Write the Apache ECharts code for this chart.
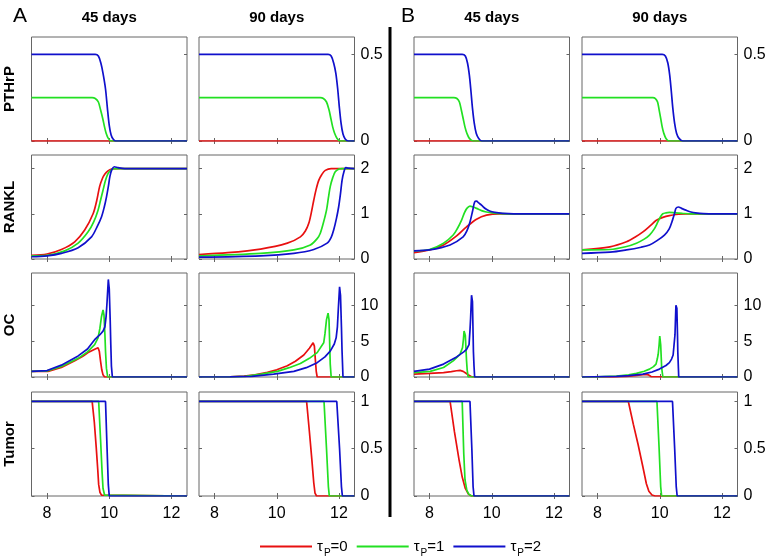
<!DOCTYPE html>
<html><head><meta charset="utf-8">
<script src="https://cdn.jsdelivr.net/npm/echarts@6/dist/echarts.min.js"></script>
<style>html,body{margin:0;padding:0;background:#fff}#c{width:769px;height:556px}</style>
</head><body><div id="c"></div>
<script>
// ---------- labels / ticks ----------
const rowNames = ['PTHrP', 'RANKL', 'OC', 'Tumor'];
const colTitles = ['45 days', '90 days', '45 days', '90 days'];
const groupLetters = ['A', 'B'];
const seriesNames = ['τP=0', 'τP=1', 'τP=2'];
const xTicks = [8, 10, 12];
const yTicksPTHrP = [0, 0.5];
const yTicksRANKL = [0, 1, 2];
const yTicksOC = [0, 5, 10];
const yTicksTumor = [0, 0.5, 1];

// ---------- PTHrP ----------
const pthA45_t0 = [[7.5,0],[12.5,0]];
const pthA45_t1 = [[7.5,.25],[9.45,.25],[9.55,.245],[9.65,.225],[9.72,.18],[9.79,.13],[9.85,.08],[9.9,.045],[9.97,.015],[10.06,0],[12.5,0]];
const pthA45_t2 = [[7.5,.5],[9.55,.5],[9.65,.49],[9.73,.45],[9.8,.39],[9.88,.3],[9.94,.19],[10.0,.09],[10.06,.035],[10.13,.01],[10.2,0],[12.5,0]];
const pthA90_t0 = [[7.5,0],[12.5,0]];
const pthA90_t1 = [[7.5,.25],[11.4,.25],[11.5,.245],[11.6,.225],[11.68,.18],[11.74,.13],[11.8,.08],[11.86,.045],[11.94,.015],[12.03,0],[12.5,0]];
const pthA90_t2 = [[7.5,.5],[11.65,.5],[11.75,.49],[11.83,.45],[11.9,.39],[11.96,.3],[12.01,.2],[12.07,.1],[12.13,.04],[12.2,.012],[12.3,0],[12.5,0]];
const pthB45_t0 = [[7.5,0],[12.5,0]];
const pthB45_t1 = [[7.5,.25],[8.78,.25],[8.88,.245],[8.96,.225],[9.02,.18],[9.08,.13],[9.14,.08],[9.2,.045],[9.28,.015],[9.4,0],[12.5,0]];
const pthB45_t2 = [[7.5,.5],[9.05,.5],[9.15,.49],[9.22,.45],[9.28,.38],[9.33,.29],[9.38,.19],[9.44,.1],[9.5,.045],[9.58,.015],[9.68,0],[12.5,0]];
const pthB90_t0 = [[7.5,0],[12.5,0]];
const pthB90_t1 = [[7.5,.25],[9.78,.25],[9.86,.245],[9.93,.225],[9.98,.18],[10.03,.13],[10.08,.08],[10.13,.045],[10.2,.015],[10.3,0],[12.5,0]];
const pthB90_t2 = [[7.5,.5],[10.08,.5],[10.18,.49],[10.26,.45],[10.32,.38],[10.37,.29],[10.42,.19],[10.48,.1],[10.54,.045],[10.62,.015],[10.74,0],[12.5,0]];

// ---------- RANKL ----------
const rankA45_t0 = [[7.5,.08],[8.0,.11],[8.46,.21],[8.89,.38],[9.21,.64],[9.48,1.0],[9.6,1.3],[9.69,1.6],[9.78,1.78],[9.86,1.88],[9.96,1.95],[10.07,1.99],[10.3,2.0],[12.5,2.0]];
const rankA45_t1 = [[7.5,.07],[8.0,.08],[8.57,.18],[9.0,.35],[9.32,.6],[9.5,.82],[9.64,1.08],[9.72,1.3],[9.8,1.52],[9.88,1.74],[9.96,1.89],[10.05,1.96],[10.15,2.0],[12.5,2.0]];
const rankA45_t2 = [[7.5,.05],[8.0,.07],[8.46,.125],[9.0,.25],[9.43,.49],[9.6,.7],[9.75,.93],[9.84,1.15],[9.91,1.37],[9.97,1.6],[10.02,1.82],[10.08,1.97],[10.16,2.04],[10.28,2.02],[10.5,2.0],[12.5,2.0]];
const rankA90_t0 = [[7.5,.1],[8.42,.14],[9.48,.22],[10.34,.35],[10.76,.49],[10.92,.62],[11.03,.79],[11.11,1.02],[11.19,1.3],[11.27,1.55],[11.35,1.74],[11.45,1.87],[11.56,1.96],[11.75,2.0],[12.5,2.0]];
const rankA90_t1 = [[7.5,.07],[9.48,.125],[10.55,.2],[11.08,.31],[11.3,.45],[11.4,.57],[11.5,.8],[11.6,1.08],[11.66,1.35],[11.72,1.6],[11.8,1.8],[11.88,1.93],[12.0,1.99],[12.1,2.0],[12.5,2.0]];
const rankA90_t2 = [[7.5,.04],[9.48,.07],[10.55,.125],[11.19,.21],[11.62,.35],[11.75,.48],[11.83,.64],[11.92,.9],[11.99,1.15],[12.05,1.45],[12.1,1.74],[12.16,1.93],[12.22,2.02],[12.3,2.01],[12.5,2.0]];
const rankB45_t0 = [[7.5,.14],[8.0,.2],[8.45,.31],[8.87,.51],[9.19,.71],[9.51,.88],[9.83,.97],[10.25,1.0],[12.5,1.0]];
const rankB45_t1 = [[7.5,.18],[8.0,.21],[8.45,.35],[8.76,.53],[8.9,.68],[9.03,.86],[9.12,1.02],[9.2,1.12],[9.3,1.17],[9.4,1.15],[9.51,1.12],[9.67,1.07],[9.83,1.04],[10.14,1.01],[10.5,1.0],[12.5,1.0]];
const rankB45_t2 = [[7.5,.18],[8.0,.2],[8.66,.31],[9.08,.49],[9.2,.62],[9.3,.82],[9.38,1.05],[9.45,1.26],[9.51,1.28],[9.58,1.24],[9.67,1.19],[9.8,1.11],[9.93,1.06],[10.1,1.03],[10.36,1.01],[10.7,1.0],[12.5,1.0]];
const rankB90_t0 = [[7.5,.2],[8.4,.27],[8.93,.38],[9.2,.48],[9.46,.6],[9.7,.74],[9.88,.85],[10.1,.92],[10.31,.96],[10.6,.99],[10.84,1.0],[12.5,1.0]];
const rankB90_t1 = [[7.5,.2],[8.4,.21],[8.9,.27],[9.25,.35],[9.5,.44],[9.67,.53],[9.82,.66],[9.94,.82],[10.02,.93],[10.1,1.0],[10.2,1.02],[10.31,1.03],[10.5,1.02],[10.73,1.01],[11.0,1.0],[12.5,1.0]];
const rankB90_t2 = [[7.5,.125],[8.4,.15],[8.93,.2],[9.4,.26],[9.67,.31],[9.9,.4],[10.15,.53],[10.3,.66],[10.41,.86],[10.48,1.02],[10.52,1.12],[10.6,1.15],[10.7,1.12],[10.84,1.08],[11.0,1.04],[11.15,1.02],[11.58,1.0],[12.5,1.0]];

// ---------- OC ----------
const ocA45_t0 = [[7.5,.78],[8.03,.78],[8.46,1.33],[8.89,2.25],[9.15,2.9],[9.32,3.4],[9.55,3.9],[9.64,4.08],[9.68,3.6],[9.72,2.2],[9.76,1.0],[9.8,.3],[9.85,0],[12.5,0]];
const ocA45_t1 = [[7.5,.78],[8.0,.85],[8.46,1.47],[9.0,2.6],[9.3,3.5],[9.53,4.5],[9.64,5.46],[9.7,6.8],[9.75,8.4],[9.8,9.36],[9.83,8.67],[9.86,6.0],[9.88,3.6],[9.91,1.2],[9.95,0],[12.5,0]];
const ocA45_t2 = [[7.5,.78],[8.0,.9],[8.46,1.65],[9.0,2.94],[9.3,3.9],[9.53,5.2],[9.7,5.9],[9.8,6.4],[9.86,7.0],[9.9,8.5],[9.93,10.5],[9.97,13.6],[10.0,12.3],[10.03,8.0],[10.05,4.5],[10.07,1.5],[10.1,0],[12.5,0]];
const ocA90_t0 = [[7.5,0],[8.5,.03],[8.95,.14],[9.3,.3],[9.7,.64],[10.0,1.0],[10.34,1.56],[10.6,2.2],[10.87,3.07],[11.05,4.0],[11.17,4.77],[11.21,4.3],[11.24,2.5],[11.27,.8],[11.3,0],[12.5,0]];
const ocA90_t1 = [[7.5,0],[8.5,.02],[9.0,.1],[9.5,.4],[10.02,.78],[10.4,1.3],[10.76,1.88],[11.05,2.6],[11.3,3.4],[11.51,4.77],[11.55,6.0],[11.6,8.0],[11.65,8.9],[11.68,8.0],[11.7,5.0],[11.72,1.8],[11.75,0],[12.5,0]];
const ocA90_t2 = [[7.5,0],[8.5,.02],[9.2,.1],[9.9,.4],[10.55,.78],[10.95,1.3],[11.3,2.0],[11.55,2.8],[11.72,3.6],[11.85,4.6],[11.91,5.46],[11.95,7.0],[11.98,9.5],[12.02,12.57],[12.05,11.4],[12.08,7.0],[12.1,3.6],[12.13,0],[12.5,0]];
const ocB45_t0 = [[7.5,.41],[8.0,.5],[8.45,.6],[8.7,.75],[8.87,.87],[8.98,.92],[9.08,.78],[9.16,.55],[9.24,.32],[9.32,.1],[9.4,0],[12.5,0]];
const ocB45_t1 = [[7.5,.6],[8.02,.78],[8.45,1.33],[8.76,2.25],[8.98,3.17],[9.06,4.1],[9.09,5.3],[9.11,6.4],[9.15,5.8],[9.17,4.0],[9.19,2.25],[9.21,1.0],[9.24,0],[12.5,0]];
const ocB45_t2 = [[7.5,.78],[8.0,1.1],[8.45,1.8],[8.87,2.8],[9.1,3.5],[9.19,3.85],[9.27,4.5],[9.3,6.5],[9.32,8.2],[9.35,11.4],[9.38,10.5],[9.4,6.0],[9.41,3.6],[9.43,1.5],[9.45,0],[12.5,0]];
const ocB90_t0 = [[7.5,0],[8.5,.03],[8.93,.1],[9.2,.2],[9.46,.32],[9.56,.37],[9.63,.3],[9.67,.18],[9.72,.06],[9.78,0],[12.5,0]];
const ocB90_t1 = [[7.5,0],[8.0,.02],[8.61,.14],[9.0,.3],[9.25,.5],[9.5,.8],[9.67,1.1],[9.8,1.45],[9.88,1.8],[9.92,2.5],[9.95,3.17],[9.98,4.5],[10.0,5.7],[10.03,4.5],[10.05,2.5],[10.06,1.33],[10.1,0],[12.5,0]];
const ocB90_t2 = [[7.5,0],[8.61,.1],[9.0,.2],[9.46,.41],[9.75,.7],[9.99,1.1],[10.2,1.6],[10.31,2.0],[10.38,2.5],[10.43,3.07],[10.46,4.5],[10.49,5.9],[10.52,10.0],[10.55,9.6],[10.57,6.0],[10.58,3.6],[10.6,1.2],[10.61,0],[12.5,0]];

// ---------- Tumor ----------
const tumA45_t0 = [[7.5,1],[9.45,1],[9.52,.78],[9.58,.52],[9.63,.28],[9.66,.12],[9.7,.04],[9.75,.01],[9.8,0],[12.5,0]];
const tumA45_t1 = [[7.5,1],[9.66,1],[9.72,.6],[9.77,.25],[9.8,.08],[9.85,.01],[9.88,0],[12.5,0]];
const tumA45_t2 = [[7.5,1],[9.88,1],[9.93,.5],[9.97,.12],[10.0,0],[12.5,0]];
const tumA90_t0 = [[7.5,1],[10.96,1],[11.05,.68],[11.13,.38],[11.19,.14],[11.23,.03],[11.28,0],[12.5,0]];
const tumA90_t1 = [[7.5,1],[11.52,1],[11.6,.5],[11.66,.1],[11.69,0],[12.5,0]];
const tumA90_t2 = [[7.5,1],[11.93,1],[12.02,.5],[12.08,.1],[12.11,0],[12.5,0]];
const tumB45_t0 = [[7.5,1],[8.66,1],[8.8,.68],[8.95,.38],[9.05,.2],[9.15,.08],[9.25,.02],[9.35,0],[12.5,0]];
const tumB45_t1 = [[7.5,1],[9.05,1],[9.1,.45],[9.14,.17],[9.2,.06],[9.26,.02],[9.35,0],[12.5,0]];
const tumB45_t2 = [[7.5,1],[9.3,1],[9.36,.5],[9.4,.1],[9.43,0],[12.5,0]];
const tumB90_t0 = [[7.5,1],[8.99,1],[9.15,.76],[9.3,.55],[9.45,.32],[9.57,.13],[9.65,.05],[9.75,.01],[9.85,0],[12.5,0]];
const tumB90_t1 = [[7.5,1],[9.91,1],[9.98,.5],[10.03,.1],[10.06,0],[12.5,0]];
const tumB90_t2 = [[7.5,1],[10.41,1],[10.48,.5],[10.53,.1],[10.56,0],[12.5,0]];

// ---------- assembly ----------
const rowsCfg = [
  { max: 0.6,  ticks: yTicksPTHrP, smooth: 0.3, panels: [[pthA45_t0,pthA45_t1,pthA45_t2],[pthA90_t0,pthA90_t1,pthA90_t2],[pthB45_t0,pthB45_t1,pthB45_t2],[pthB90_t0,pthB90_t1,pthB90_t2]] },
  { max: 2.3,  ticks: yTicksRANKL, smooth: 0.3, panels: [[rankA45_t0,rankA45_t1,rankA45_t2],[rankA90_t0,rankA90_t1,rankA90_t2],[rankB45_t0,rankB45_t1,rankB45_t2],[rankB90_t0,rankB90_t1,rankB90_t2]] },
  { max: 14.5, ticks: yTicksOC,    smooth: false, panels: [[ocA45_t0,ocA45_t1,ocA45_t2],[ocA90_t0,ocA90_t1,ocA90_t2],[ocB45_t0,ocB45_t1,ocB45_t2],[ocB90_t0,ocB90_t1,ocB90_t2]] },
  { max: 1.1,  ticks: yTicksTumor, smooth: false, panels: [[tumA45_t0,tumA45_t1,tumA45_t2],[tumA90_t0,tumA90_t1,tumA90_t2],[tumB45_t0,tumB45_t1,tumB45_t2],[tumB90_t0,tumB90_t1,tumB90_t2]] }
];
const colors = ['#e81010', '#22e022', '#1010cc'];
const colLefts = [31.5, 199, 414, 582];
const rowTops = [37, 155, 273, 392];
const PW = 155.5, PH = 104;
const FONT = '"Liberation Sans", Arial, Helvetica, sans-serif';
const frame = '#666';

const grids = [], xAxes = [], yAxes = [], series = [];
rowsCfg.forEach((row, r) => {
  row.panels.forEach((pan, c) => {
    const g = grids.length;
    grids.push({ left: colLefts[c], top: rowTops[r], width: PW, height: PH, show: true,
      borderColor: frame, borderWidth: 1, backgroundColor: '#fff' });
    const tickStyle = { inside: true, length: 3, lineStyle: { color: frame, width: 1 } };
    xAxes.push({ gridIndex: g, type: 'value', min: 7.5, max: 12.5, position: 'bottom',
      axisLine: { show: false }, splitLine: { show: false },
      axisTick: Object.assign({ customValues: xTicks }, tickStyle),
      axisLabel: { show: r === 3, customValues: xTicks, fontSize: 16, color: '#000', margin: 10, fontFamily: FONT } });
    xAxes.push({ gridIndex: g, type: 'value', min: 7.5, max: 12.5, position: 'top',
      axisLine: { show: false }, splitLine: { show: false },
      axisTick: Object.assign({ customValues: xTicks }, tickStyle),
      axisLabel: { show: false } });
    yAxes.push({ gridIndex: g, type: 'value', min: 0, max: row.max, position: 'left',
      axisLine: { show: false }, splitLine: { show: false },
      axisTick: Object.assign({ customValues: row.ticks }, tickStyle),
      axisLabel: { show: false } });
    yAxes.push({ gridIndex: g, type: 'value', min: 0, max: row.max, position: 'right',
      axisLine: { show: false }, splitLine: { show: false },
      axisTick: Object.assign({ customValues: row.ticks }, tickStyle),
      axisLabel: { show: (c === 1 || c === 3), customValues: row.ticks, fontSize: 16, color: '#000', margin: 6, fontFamily: FONT } });
    pan.forEach((d, k) => {
      series.push({ type: 'line', name: seriesNames[k], xAxisIndex: 2 * g, yAxisIndex: 2 * g,
        data: d, showSymbol: false, symbol: 'none', smooth: row.smooth, animation: false,
        lineStyle: { color: colors[k], width: 1.7 }, itemStyle: { color: colors[k] }, z: 2 + k });
    });
  });
});

const graphics = [];
graphics.push({ type: 'line', shape: { x1: 390, y1: 27, x2: 390, y2: 517 }, style: { stroke: '#000', lineWidth: 3 } });
graphics.push({ type: 'text', x: 20, y: 16, style: { text: groupLetters[0], font: '21px ' + FONT, fill: '#000', textAlign: 'center', textVerticalAlign: 'middle' } });
graphics.push({ type: 'text', x: 408, y: 16, style: { text: groupLetters[1], font: '21px ' + FONT, fill: '#000', textAlign: 'center', textVerticalAlign: 'middle' } });
colTitles.forEach((t, c) => {
  graphics.push({ type: 'text', x: colLefts[c] + PW / 2, y: 18, style: { text: t, font: 'bold 15px ' + FONT, fill: '#000', textAlign: 'center', textVerticalAlign: 'middle' } });
});
rowNames.forEach((t, r) => {
  graphics.push({ type: 'text', x: 10, y: rowTops[r] + PH / 2, rotation: Math.PI / 2,
    style: { text: t, font: 'bold 15px ' + FONT, fill: '#000', textAlign: 'center', textVerticalAlign: 'middle' } });
});

const option = {
  animation: false,
  backgroundColor: '#fff',
  textStyle: { fontFamily: FONT },
  grid: grids, xAxis: xAxes, yAxis: yAxes, series: series,
  legend: {
    left: 255, top: 534, itemWidth: 52, itemHeight: 2, itemGap: 9, icon: 'rect',
    data: seriesNames, selectedMode: false,
    formatter: function (n) { const v = n.split('='); return '{t|τ}{s|P}{t|=' + v[1] + '}'; },
    textStyle: { color: '#000', fontFamily: FONT,
      rich: { t: { fontSize: 15, fontFamily: FONT, color: '#000', verticalAlign: 'middle', lineHeight: 18 },
              s: { fontSize: 10, fontFamily: FONT, color: '#000', padding: [14, 0, 0, 1], verticalAlign: 'bottom' } } }
  },
  graphic: graphics
};
const chart = echarts.init(document.getElementById('c'));
chart.setOption(option);
</script></body></html>
